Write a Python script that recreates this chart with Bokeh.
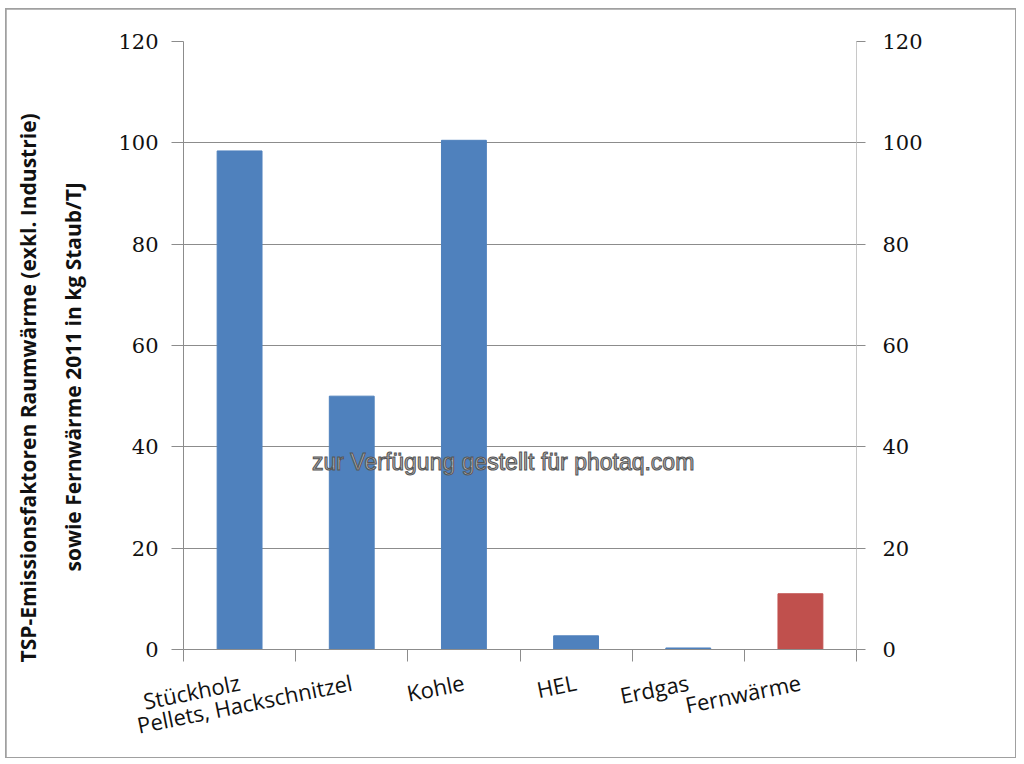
from bokeh.plotting import figure
from bokeh.models import (Range1d, FixedTicker, LinearAxis, Label, Title,
                          ColumnDataSource)
from bokeh.embed import file_html
from bokeh.resources import INLINE

# data
categories = ["Stückholz", "Pellets, Hackschnitzel", "Kohle", "HEL",
              "Erdgas", "Fernwärme"]
values = [98.4, 50.0, 100.5, 2.7, 0.3, 11.0]
colors = ["#4f81bd", "#4f81bd", "#4f81bd", "#4f81bd", "#4f81bd", "#c0504d"]
y_ticks = [0, 20, 40, 60, 80, 100, 120]
title_lines = ["TSP-Emissionsfaktoren Raumwärme (exkl. Industrie)",
               "sowie Fernwärme 2011 in kg Staub/TJ"]
watermark = "zur Verfügung gestellt für photaq.com"

n = len(categories)
centers = [i + 0.5 for i in range(n)]
bounds = list(range(n + 1))

src = ColumnDataSource(dict(x=centers, top=values, color=colors, name=categories))

p = figure(width=1009, height=748, output_backend="svg", toolbar_location=None,
           x_range=Range1d(0, n), y_range=Range1d(0, 120),
           min_border_left=177, min_border_right=159,
           min_border_top=32, min_border_bottom=108)
p.styles = {"margin-left": "6px", "margin-top": "9px",
            "outline": "2px solid #a0a0a0", "outline-offset": "-1px"}
p.outline_line_color = None
p.background_fill_color = "white"
p.border_fill_color = "white"

p.vbar(x="x", top="top", width=0.4, color="color", source=src)

axis_grey = "#8c8c8c"
tick_font = "DejaVu Serif"

# x axis: labels at bar centres, ticks between categories
xa = p.xaxis[0]
xa.ticker = FixedTicker(ticks=centers, minor_ticks=bounds)
xa.major_label_overrides = {c: name for c, name in zip(centers, categories)}
xa.major_tick_line_color = None
xa.minor_tick_in = 0
xa.minor_tick_out = 12
xa.minor_tick_line_color = axis_grey
xa.axis_line_color = axis_grey
xa.major_label_orientation = 0.2
xa.major_label_standoff = 20
xa.major_label_text_font = "Open Sans"
xa.major_label_text_font_size = "22px"
xa.major_label_text_color = "#111111"

# left axis
ya = p.yaxis[0]
ya.ticker = FixedTicker(ticks=y_ticks)
ya.minor_tick_line_color = None
ya.major_tick_in = 0
ya.major_tick_out = 12
ya.major_tick_line_color = axis_grey
ya.axis_line_color = axis_grey
ya.major_label_standoff = 13
ya.major_label_text_font = tick_font
ya.major_label_text_font_size = "21px"
ya.major_label_text_color = "#111111"

# right axis, same scale
ra = LinearAxis(ticker=FixedTicker(ticks=y_ticks))
ra.minor_tick_line_color = None
ra.major_tick_in = 0
ra.major_tick_out = 9
ra.major_tick_line_color = axis_grey
ra.axis_line_color = "#c8c8c8"
ra.major_label_standoff = 17
ra.major_label_text_font = tick_font
ra.major_label_text_font_size = "21px"
ra.major_label_text_color = "#111111"
p.add_layout(ra, "right")

p.xgrid.grid_line_color = None
p.ygrid.grid_line_color = axis_grey
p.ygrid.grid_line_width = 1

# two-line axis title on the left (second line sits nearest the axis)
for line, standoff, offset in zip(reversed(title_lines), [57, -26], [78, -13]):
    p.add_layout(Title(text=line, align="left", offset=offset, standoff=standoff,
                       text_font="Open Sans", text_font_style="bold",
                       text_font_size="21px", text_color="#111111"), "left")

p.add_layout(Label(x=2.85, y=37, text=watermark, text_align="center",
                   text_baseline="middle", text_font="Liberation Sans",
                   text_font_size="23px", text_color="#b4b4b4",
                   text_outline_color="#555555"))

open("out.html", "w").write(file_html(p, INLINE))
